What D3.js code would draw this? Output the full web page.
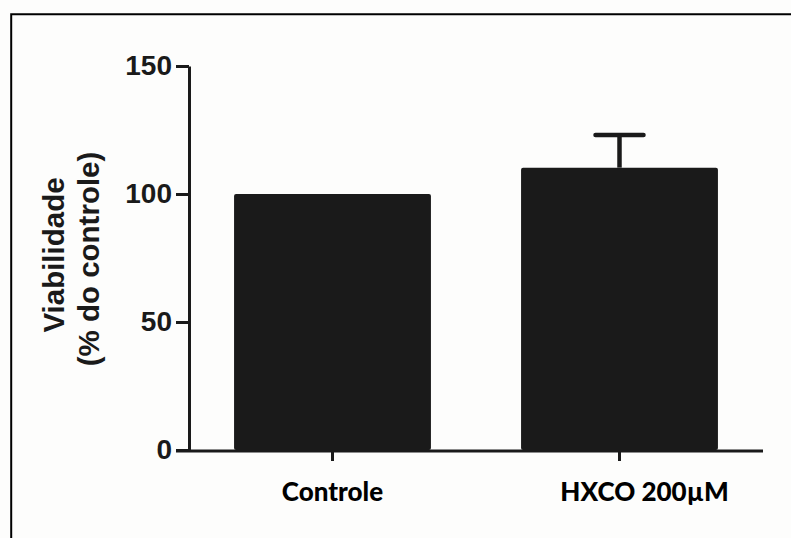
<!DOCTYPE html>
<html>
<head>
<meta charset="utf-8">
<script src="https://cdn.jsdelivr.net/npm/d3@7"></script>
<style>
  body { margin: 0; background: #fdfdfc; }
  svg { display: block; }
</style>
</head>
<body>
<div id="myChart"></div>
<script>
var groups = ['Controle', 'HXCO 200µM'];
var means = [100, 110.3];
var errors = [0, 12.7];
var yTicks = [0, 50, 100, 150];

var svg = d3.select("#myChart").append("svg")
  .attr("width", 791)
  .attr("height", 538);

svg.append("rect").attr("width", 791).attr("height", 538).attr("fill", "#fdfdfc");

// frame (top + left only)
svg.append("path")
  .attr("d", "M11.2,538V14.3H791")
  .attr("fill", "none")
  .attr("stroke", "#000")
  .attr("stroke-width", 2);

var ink = "#1a1a1a";

var x = d3.scaleBand()
  .domain(groups)
  .range([189, 763])
  .paddingInner(0.314)
  .paddingOuter(0.157);

var y = d3.scaleLinear()
  .domain([0, 150])
  .range([450, 66]);

// error bars (upper only, behind bars)
svg.selectAll("g.err")
  .data(groups.map(function(g, i) { return { g: g, m: means[i], e: errors[i] }; })
    .filter(function(d) { return d.e > 0; }))
  .enter()
  .append("g")
  .attr("class", "err")
  .each(function(d) {
    var cx = x(d.g) + x.bandwidth() / 2;
    var g = d3.select(this);
    g.append("line")
      .attr("x1", cx).attr("x2", cx)
      .attr("y1", y(d.m)).attr("y2", y(d.m + d.e))
      .attr("stroke", ink).attr("stroke-width", 4.5);
    g.append("line")
      .attr("x1", cx - 24).attr("x2", cx + 24)
      .attr("y1", y(d.m + d.e)).attr("y2", y(d.m + d.e))
      .attr("stroke", ink).attr("stroke-width", 4.5)
      .attr("stroke-linecap", "round");
  });

// bars
svg.selectAll("rect.bar")
  .data(groups)
  .enter()
  .append("rect")
  .attr("class", "bar")
  .attr("x", function(d) { return x(d); })
  .attr("width", x.bandwidth())
  .attr("y", function(d, i) { return y(means[i]); })
  .attr("height", function(d, i) { return y(0) - y(means[i]); })
  .attr("rx", 2)
  .attr("fill", ink);

// y axis
var yAxis = svg.append("g")
  .attr("transform", "translate(189,0)")
  .call(d3.axisLeft(y).tickValues(yTicks).tickSize(13).tickSizeOuter(0).tickPadding(4));
yAxis.select(".domain").attr("stroke", ink).attr("stroke-width", 3);
yAxis.selectAll(".tick line").attr("stroke", ink).attr("stroke-width", 3);
yAxis.selectAll(".tick text")
  .attr("fill", ink)
  .style("font-family", "'Liberation Sans', Arial, sans-serif")
  .style("font-weight", "bold")
  .style("font-size", "28px");

// x axis
var xAxis = svg.append("g")
  .attr("transform", "translate(0,451)")
  .call(d3.axisBottom(x).tickSize(10).tickSizeOuter(0).tickPadding(20));
xAxis.select(".domain").attr("stroke", ink).attr("stroke-width", 3)
  .attr("d", "M176,0H763");
xAxis.selectAll(".tick line").attr("stroke", ink).attr("stroke-width", 3);
xAxis.selectAll(".tick text")
  .attr("fill", "#000")
  .attr("dy", "0.75em")
  .attr("dx", function(d, i) { return i === 1 ? 25 : 0; })
  .style("font-family", "Lato, 'Open Sans', sans-serif")
  .style("font-weight", "900")
  .style("font-size", "26px");

// y label
var yl = svg.append("text")
  .attr("transform", "translate(0,255) rotate(-90)")
  .attr("text-anchor", "middle")
  .attr("fill", ink)
  .style("font-family", "'Liberation Sans', Arial, sans-serif")
  .style("font-weight", "bold")
  .style("font-size", "29.5px");
yl.append("tspan").attr("x", 0).attr("y", 64).text("Viabilidade");
yl.append("tspan").attr("x", -4).attr("y", 99).text("(% do controle)");
</script>
</body>
</html>
